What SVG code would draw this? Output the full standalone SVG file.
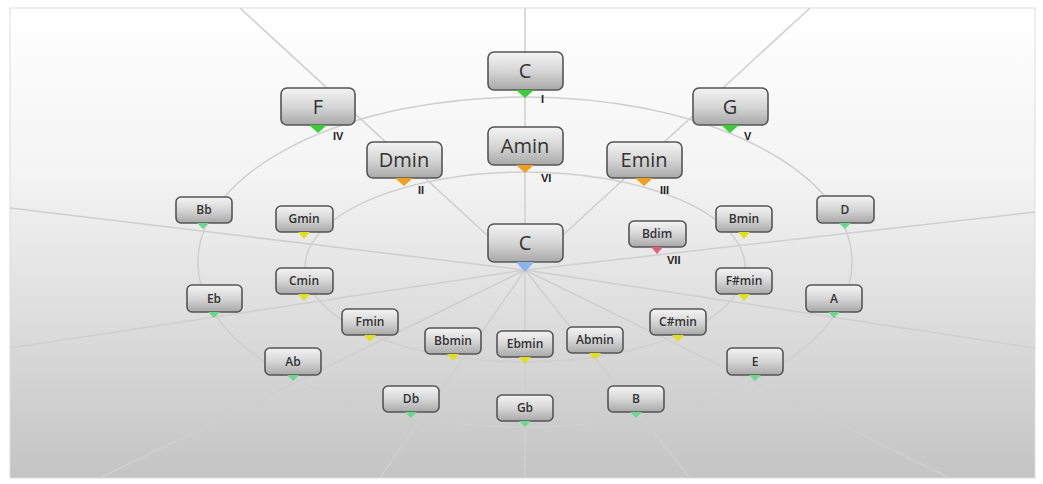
<svg xmlns="http://www.w3.org/2000/svg" width="1043" height="484" viewBox="0 0 1043 484">
<defs>
<linearGradient id="bg" x1="0" y1="0" x2="0" y2="1"><stop offset="0" stop-color="#ffffff"/><stop offset="0.35" stop-color="#f4f4f4"/><stop offset="1" stop-color="#c4c4c4"/></linearGradient>
<linearGradient id="box" x1="0" y1="0" x2="0" y2="1"><stop offset="0" stop-color="#f4f4f4"/><stop offset="0.5" stop-color="#d6d6d6"/><stop offset="1" stop-color="#a8a8a8"/></linearGradient>
</defs>
<style>
.b{fill:url(#box);stroke:#555;stroke-width:1.6}
.t{font-family:"Open Sans","Liberation Sans",sans-serif;fill:#333;text-anchor:middle}
.L{font-size:20px}.S{font-size:12px;font-weight:600}
.r{font-family:"Liberation Sans",sans-serif;font-weight:bold;font-size:11px;fill:#222}
.g{fill:#3ccc3c}.o{fill:#f0a020}.y{fill:#e0e020}.gs{fill:#6cd88a}.bl{fill:#8ab4ec}.rd{fill:#e06080}
.ln{stroke:#cfcfcf;stroke-width:1.5;fill:none}
</style>
<rect x="0" y="0" width="1043" height="484" fill="#fff"/>
<rect x="10" y="8" width="1025" height="470" fill="url(#bg)" stroke="#ddd"/>
<g id="connectors" class="ln">
<ellipse cx="525" cy="262" rx="327" ry="165"/>
<ellipse cx="525" cy="267" rx="220" ry="95"/>
<line x1="525" y1="8" x2="525" y2="478"/>
<line x1="525" y1="270" x2="240" y2="8"/><line x1="525" y1="270" x2="810" y2="8"/>
<line x1="525" y1="270" x2="10" y2="208"/><line x1="525" y1="270" x2="1035" y2="212"/>
<line x1="525" y1="270" x2="10" y2="348"/><line x1="525" y1="270" x2="1035" y2="348"/>
<line x1="525" y1="270" x2="100" y2="478"/><line x1="525" y1="270" x2="950" y2="478"/>
<line x1="525" y1="270" x2="380" y2="478"/><line x1="525" y1="270" x2="690" y2="478"/>
</g>
<g id="nC"><rect class="b" x="488" y="52" width="75" height="38" rx="6"/><path class="g" d="M516 90h18l-9 8z"/><text class="t L" x="525" y="78">C</text><text class="r" x="541" y="103">I</text></g>
<g id="nF"><rect class="b" x="281" y="88" width="74" height="37" rx="6"/><path class="g" d="M309 125h18l-9 8z"/><text class="t L" x="318" y="114">F</text><text class="r" x="333" y="140">IV</text></g>
<g id="nG"><rect class="b" x="693" y="88" width="75" height="37" rx="6"/><path class="g" d="M721 125h18l-9 8z"/><text class="t L" x="730" y="114">G</text><text class="r" x="744" y="140">V</text></g>
<g id="nAmin"><rect class="b" x="488" y="127" width="75" height="38" rx="6"/><path class="o" d="M516 165h18l-9 8z"/><text class="t L" x="525" y="153">Amin</text><text class="r" x="541" y="182">VI</text></g>
<g id="nDmin"><rect class="b" x="367" y="142" width="75" height="36" rx="6"/><path class="o" d="M395 178h18l-9 8z"/><text class="t L" x="404" y="167">Dmin</text><text class="r" x="418" y="194">II</text></g>
<g id="nEmin"><rect class="b" x="607" y="142" width="75" height="36" rx="6"/><path class="o" d="M635 178h18l-9 8z"/><text class="t L" x="644" y="167">Emin</text><text class="r" x="660" y="194">III</text></g>
<g id="nCc"><rect class="b" x="488" y="224" width="75" height="38" rx="6"/><path class="bl" d="M516 262h18l-9 10z"/><text class="t L" x="525" y="250">C</text></g>
<g id="nBb"><rect class="b" x="176" y="197" width="56" height="26" rx="5"/><path class="gs" d="M197 223h12l-6 6z"/><text class="t S" x="204" y="214">Bb</text></g>
<g id="nGmin"><rect class="b" x="276" y="206" width="57" height="26" rx="5"/><path class="y" d="M298 232h12l-6 7z"/><text class="t S" x="304" y="223">Gmin</text></g>
<g id="nBmin"><rect class="b" x="716" y="206" width="56" height="26" rx="5"/><path class="y" d="M738 232h12l-6 7z"/><text class="t S" x="744" y="223">Bmin</text></g>
<g id="nD"><rect class="b" x="817" y="196" width="57" height="27" rx="5"/><path class="gs" d="M839 223h12l-6 6z"/><text class="t S" x="845" y="214">D</text></g>
<g id="nBdim"><rect class="b" x="629" y="221" width="57" height="26" rx="5"/><path class="rd" d="M651 247h12l-6 7z"/><text class="t S" x="657" y="238">Bdim</text><text class="r" x="667" y="264">VII</text></g>
<g id="nCmin"><rect class="b" x="276" y="268" width="57" height="26" rx="5"/><path class="y" d="M298 294h12l-6 7z"/><text class="t S" x="304" y="285">Cmin</text></g>
<g id="nFsmin"><rect class="b" x="716" y="268" width="56" height="26" rx="5"/><path class="y" d="M738 294h12l-6 7z"/><text class="t S" x="744" y="285">F#min</text></g>
<g id="nEb"><rect class="b" x="187" y="285" width="55" height="27" rx="5"/><path class="gs" d="M208 312h12l-6 6z"/><text class="t S" x="214" y="303">Eb</text></g>
<g id="nA"><rect class="b" x="806" y="285" width="56" height="27" rx="5"/><path class="gs" d="M828 312h12l-6 6z"/><text class="t S" x="834" y="303">A</text></g>
<g id="nFmin"><rect class="b" x="342" y="309" width="56" height="26" rx="5"/><path class="y" d="M364 335h12l-6 7z"/><text class="t S" x="370" y="326">Fmin</text></g>
<g id="nCsmin"><rect class="b" x="650" y="309" width="56" height="26" rx="5"/><path class="y" d="M672 335h12l-6 7z"/><text class="t S" x="678" y="326">C#min</text></g>
<g id="nBbmin"><rect class="b" x="425" y="328" width="56" height="26" rx="5"/><path class="y" d="M447 354h12l-6 7z"/><text class="t S" x="453" y="345">Bbmin</text></g>
<g id="nEbmin"><rect class="b" x="497" y="331" width="56" height="26" rx="5"/><path class="y" d="M519 357h12l-6 7z"/><text class="t S" x="525" y="348">Ebmin</text></g>
<g id="nAbmin"><rect class="b" x="567" y="327" width="56" height="26" rx="5"/><path class="y" d="M589 353h12l-6 7z"/><text class="t S" x="595" y="344">Abmin</text></g>
<g id="nAb"><rect class="b" x="265" y="348" width="56" height="27" rx="5"/><path class="gs" d="M287 375h12l-6 6z"/><text class="t S" x="293" y="366">Ab</text></g>
<g id="nE"><rect class="b" x="727" y="348" width="56" height="27" rx="5"/><path class="gs" d="M749 375h12l-6 6z"/><text class="t S" x="755" y="366">E</text></g>
<g id="nDb"><rect class="b" x="383" y="386" width="56" height="26" rx="5"/><path class="gs" d="M405 412h12l-6 6z"/><text class="t S" x="411" y="403">Db</text></g>
<g id="nGb"><rect class="b" x="497" y="395" width="56" height="26" rx="5"/><path class="gs" d="M519 421h12l-6 6z"/><text class="t S" x="525" y="412">Gb</text></g>
<g id="nB"><rect class="b" x="608" y="386" width="56" height="26" rx="5"/><path class="gs" d="M630 412h12l-6 6z"/><text class="t S" x="636" y="403">B</text></g>
</svg>
